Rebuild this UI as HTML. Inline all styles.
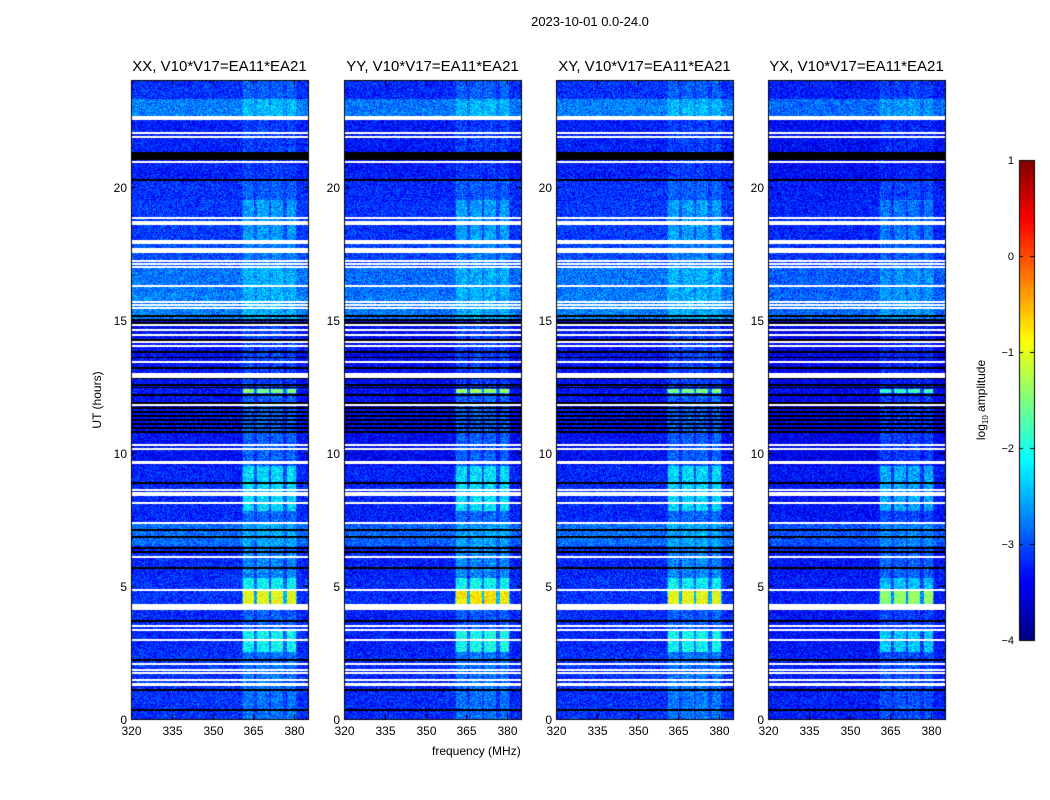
<!DOCTYPE html>
<html><head><meta charset="utf-8">
<style>
html,body{margin:0;padding:0;background:#fff;}
#wrap{position:relative;width:1050px;height:800px;font-family:"Liberation Sans",sans-serif;color:#000;}
canvas{position:absolute;left:0;top:0;}
.t{position:absolute;white-space:nowrap;}
</style></head>
<body>
<div id="wrap">
<canvas id="c" width="1050" height="800"></canvas>
<div class="t" style="left:0;width:1180px;top:14px;text-align:center;font-size:13px;">2023-10-01 0.0-24.0</div>
<div class="t" style="left:432px;top:744px;font-size:12px;">frequency (MHz)</div>
<div class="t" style="left:97px;top:400px;font-size:12px;transform:translate(-50%,-50%) rotate(-90deg);">UT (hours)</div>
<div class="t" style="left:982px;top:400px;font-size:12px;transform:translate(-50%,-50%) rotate(-90deg);">log<sub style="font-size:8px">10</sub> amplitude</div>
<div id="labels"></div>
</div>
<script>
// ---- data ----
const panelTitles = ["XX, V10*V17=EA11*EA21","YY, V10*V17=EA11*EA21","XY, V10*V17=EA11*EA21","YX, V10*V17=EA11*EA21"];
const panelBgOffset = [0, -0.05, 0, -0.12];
const panelBandScale = [1, 1.1, 1, 0.85];
const xTicks = [320,335,350,365,380];
const yTicks = [0,5,10,15,20];
const cbTicks = [1,0,-1,-2,-3,-4];
const bandStart = [361.2,366.3,371.5,377.4];
const bandEnd = [365.2,370.7,375.9,380.7];
const segStart = [23.3,22.6,21.3,20.2,19.5,17.9,17.0,16.0,15.0,12.4,12.25,9.5,7.8,7.4,6.5,5.3,4.8,4.2,3.3,2.5,0.0];
const segEnd   = [24.0,23.3,22.6,21.3,20.2,19.5,17.9,17.0,16.0,15.0,12.4,12.25,9.5,7.8,7.4,6.5,5.3,4.8,4.2,3.3,2.5];
const segBg    = [-3.15,-2.75,-3.25,-3.25,-3.15,-3.1,-3.0,-2.8,-2.75,-3.35,-3.3,-3.35,-3.2,-3.2,-2.85,-3.2,-3.15,-3.15,-3.2,-3.2,-3.15];
const segBand  = [0.25,0.3,0.2,0.15,0.25,0.5,0.25,0.3,0.25,0.3,1.8,0.45,0.9,0.35,0.3,0.5,1.0,2.2,0.3,1.1,0.35];
const whiteH = [22.57,22.0,21.85,20.92,18.81,18.66,18.59,17.95,17.87,17.6,17.2,17.09,16.97,16.26,15.66,15.55,15.43,14.8,14.61,14.42,14.16,14.0,13.41,12.9,11.79,10.29,10.14,9.65,8.6,8.49,8.41,8.11,7.36,6.08,4.84,4.2,3.49,3.34,2.97,2.07,1.84,1.73,1.46,1.28];
const whiteW = [0.12,0.05,0.05,0.05,0.05,0.05,0.05,0.05,0.05,0.2,0.05,0.05,0.05,0.05,0.05,0.05,0.05,0.05,0.05,0.05,0.05,0.05,0.05,0.18,0.05,0.05,0.05,0.1,0.05,0.05,0.05,0.05,0.05,0.05,0.05,0.23,0.05,0.05,0.05,0.05,0.05,0.05,0.05,0.1];
const blackH = [21.14,20.24,15.13,14.98,14.87,14.23,13.78,13.59,13.18,12.8,12.54,12.45,12.17,11.87,11.68,11.53,11.38,11.23,11.08,10.93,10.78,8.86,7.1,6.83,6.42,6.27,5.67,3.68,2.22,1.09,0.34];
const blackW = [0.3,0.04,0.04,0.04,0.04,0.04,0.04,0.04,0.04,0.04,0.06,0.06,0.1,0.06,0.06,0.06,0.06,0.06,0.06,0.06,0.06,0.04,0.04,0.04,0.04,0.04,0.04,0.04,0.04,0.04,0.06];

// ---- layout ----
const panelX = [131,344,556,768], PW=177, PT=80, PB=719;
const fMin=320, fMax=320+PW/2.72, tMin=0, tMax=24;
const xOf=(p,f)=>panelX[p]+(f-fMin)/(fMax-fMin)*PW;
const yOf=t=>PB-(t-tMin)/(tMax-tMin)*(PB-PT);
const cbX=1019, cbW=15, cbT=160, cbB=640;
const cbY=v=>cbB-(v+4)/5*(cbB-cbT);

function jet(v){
  const r=Math.min(Math.max(1.5-Math.abs(4*v-3),0),1);
  const g=Math.min(Math.max(1.5-Math.abs(4*v-2),0),1);
  const b=Math.min(Math.max(1.5-Math.abs(4*v-1),0),1);
  return [r*255|0,g*255|0,b*255|0];
}
function hash(a,b){let h=(a*374761393+b*668265263)|0;h=(h^(h>>>13))*1274126177|0;return ((h^(h>>>16))>>>0)/4294967296;}
function bandProf(f){
  for(let i=0;i<bandStart.length;i++) if(f>=bandStart[i]&&f<=bandEnd[i]) return 1;
  if(f>=bandStart[0]-0.5&&f<=bandEnd[3]+0.5) return 0.3;
  return 0;
}
const c=document.getElementById('c'), ctx=c.getContext('2d');
ctx.fillStyle='#fff';ctx.fillRect(0,0,1050,800);
const img=ctx.createImageData(1050,800);
for(let i=0;i<img.data.length;i++)img.data[i]=255;
for(let p=0;p<4;p++){
  for(let y=PT;y<PB;y++){
    const t=tMax-(y-PT+0.5)/(PB-PT)*(tMax-tMin);
    let s=-1; for(let k=0;k<segStart.length;k++) if(t>=segStart[k]&&t<segEnd[k]){s=k;break;}
    let flag=0;
    for(let k=0;k<whiteH.length;k++) if(Math.abs(t-whiteH[k])<=whiteW[k]/2+0.005){flag=1;break;}
    if(!flag) for(let k=0;k<blackH.length;k++) if(Math.abs(t-blackH[k])<=blackW[k]/2+0.005){flag=2;break;}
    for(let x=0;x<PW;x++){
      const px=panelX[p]+x, o=(y*1050+px)*4;
      let col;
      if(flag===1) col=[255,255,255];
      else if(flag===2) col=[0,0,0];
      else{
        const f=fMin+(x+0.5)/PW*(fMax-fMin);
        let v=segBg[s]+panelBgOffset[p]+segBand[s]*panelBandScale[p]*bandProf(f);
        v+= (hash(px,y)-0.5)*0.8;
        col=jet(Math.min(Math.max((v+4)/5,0),1));
      }
      img.data[o]=col[0];img.data[o+1]=col[1];img.data[o+2]=col[2];
    }
  }
}
for(let y=cbT;y<cbB;y++){
  const v=(cbB-y)/(cbB-cbT);const col=jet(v);
  for(let x=cbX;x<cbX+cbW;x++){const o=(y*1050+x)*4;img.data[o]=col[0];img.data[o+1]=col[1];img.data[o+2]=col[2];}
}
ctx.putImageData(img,0,0);
ctx.strokeStyle='#000';ctx.lineWidth=1;
const L=document.getElementById('labels');
function label(txt,x,y,al,name,size){
  const d=document.createElement('div');d.className='t';d.textContent=txt;
  d.style.fontSize=(size||12)+'px';
  d.style.left=x+'px';d.style.top=y+'px';
  d.style.transform=al==='c'?'translate(-50%,0)':(al==='r'?'translate(-100%,-50%)':'translate(0,-50%)');
  
  
  L.appendChild(d);
}
for(let p=0;p<4;p++){
  const x0=panelX[p];
  ctx.strokeRect(x0+0.5,PT+0.5,PW,PB-PT);
  label(panelTitles[p],x0+PW/2,58,'c','panel-title-'+(p+1),15);
  xTicks.forEach(f=>{const x=Math.round(xOf(p,f))+0.5;
    ctx.beginPath();ctx.moveTo(x,PB);ctx.lineTo(x,PB-5);ctx.moveTo(x,PT);ctx.lineTo(x,PT+5);ctx.stroke();
    label(String(f),x,724,'c','x-tick-label',12);});
  yTicks.forEach(t=>{const y=Math.round(yOf(t))+0.5;
    ctx.beginPath();ctx.moveTo(x0,y);ctx.lineTo(x0+5,y);ctx.moveTo(x0+PW,y);ctx.lineTo(x0+PW-5,y);ctx.stroke();
    label(String(t),x0-4,y,'r','y-tick-label',12);});
}
ctx.strokeRect(cbX+0.5,cbT+0.5,cbW,cbB-cbT);
cbTicks.forEach(v=>{const y=Math.round(cbY(v))+0.5;
  ctx.beginPath();ctx.moveTo(cbX,y);ctx.lineTo(cbX+4,y);ctx.moveTo(cbX+cbW,y);ctx.lineTo(cbX+cbW-4,y);ctx.stroke();
  label(v<0?'\u2212'+(-v):String(v),cbX-5,y,'r','colorbar-tick-label',11);});
</script>
</body></html>
